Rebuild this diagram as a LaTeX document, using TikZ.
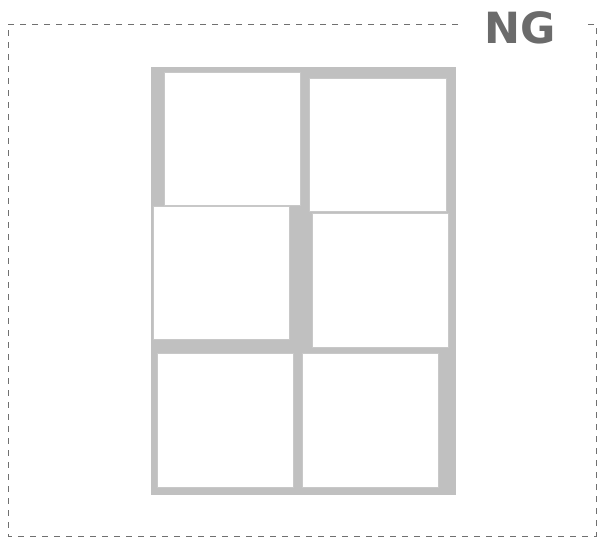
\documentclass[tikz,border=0pt]{standalone}
\usepackage{fontspec}
\newfontfamily\labelfont{DejaVu Sans}
\usetikzlibrary{positioning}

\definecolor{sheetgray}{HTML}{C0C0C0}
\definecolor{edgegray}{HTML}{C8C8C8}
\definecolor{framegray}{HTML}{707070}
\definecolor{textgray}{HTML}{6B6B6B}

\tikzset{
  panel/.style={rectangle,draw=edgegray,line width=1pt,fill=white,inner sep=0pt},
  sheet/.style={rectangle,fill=sheetgray,inner sep=0pt,minimum width=305pt,minimum height=428pt},
  frame/.style={draw=framegray,line width=1pt,dash pattern=on 6pt off 6pt}
}

\begin{document}
\begin{tikzpicture}[x=1pt,y=-1pt]
    \useasboundingbox (0,0) rectangle (600,538);

    % Dashed outline
    \draw[frame] (458,24) -- (8,24) -- (8,536) -- (596,536) -- (596,24) -- (584,24);

    % Label
    \node[text=textgray,font=\labelfont\bfseries\fontsize{43}{43}\selectfont,inner sep=0pt] (ng) at (520,28) {NG};

    % Gray sheet
    \node[sheet] (paper) at (303.5,281) {};

    % Top row
    \node[panel,minimum width=136pt,minimum height=133pt] (p1) at (232,138.5) {};
    \node[panel,minimum width=137pt,minimum height=133pt] (p2) at (377.5,144.5) {};

    % Middle row
    \node[panel,minimum width=136pt,minimum height=133pt] (p3) at (221,272.5) {};
    \node[panel,minimum width=136pt,minimum height=134pt] (p4) at (380,280) {};

    % Bottom row
    \node[panel,minimum width=136pt,minimum height=134pt] (p5) at (225,420) {};
    \node[panel,minimum width=136pt,minimum height=134pt] (p6) at (370,420) {};
\end{tikzpicture}
\end{document}
